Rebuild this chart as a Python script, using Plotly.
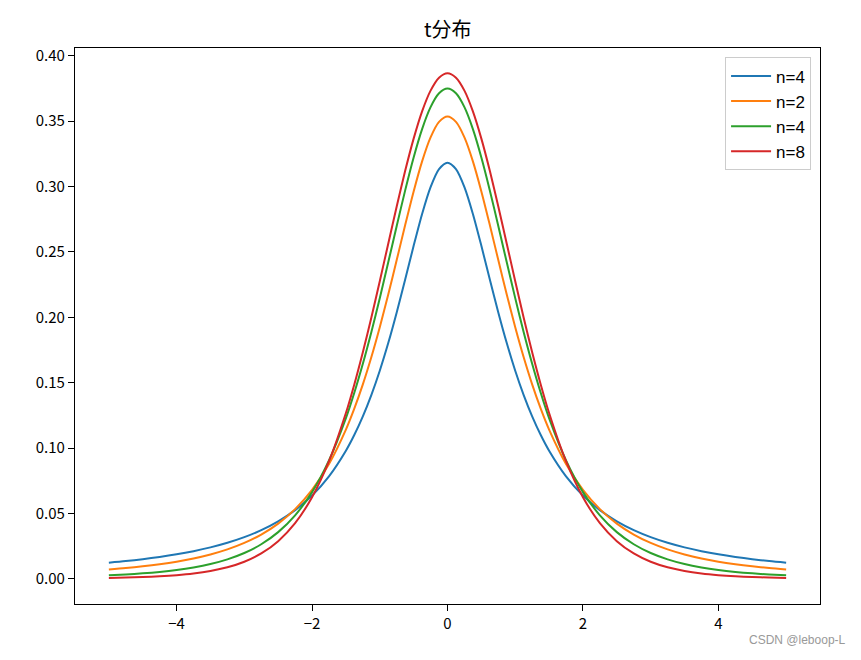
import plotly.graph_objects as go

x_half = [0, 0.125, 0.25, 0.375, 0.5, 0.625, 0.75, 0.875, 1, 1.125, 1.25, 1.375, 1.5, 1.75, 2, 2.25, 2.5,
          2.75, 3, 3.25, 3.5, 3.75, 4, 4.25, 4.5, 4.75, 5]
x_vals = [-v for v in x_half[:0:-1]] + x_half

n1_half = [0.31831, 0.31341, 0.29959, 0.27906, 0.25465, 0.22890, 0.20372, 0.18028, 0.15915, 0.14049,
           0.12422, 0.11012, 0.09794, 0.07835, 0.06366, 0.05250, 0.04391, 0.03718, 0.03183, 0.02753,
           0.02402, 0.02113, 0.01872, 0.01670, 0.01498, 0.01351, 0.01224]
n2_half = [0.35355, 0.34945, 0.33761, 0.31930, 0.29630, 0.27054, 0.24378, 0.21743, 0.19245, 0.16945,
           0.14872, 0.13031, 0.11413, 0.08779, 0.06804, 0.05328, 0.04220, 0.03382, 0.02741, 0.02246,
           0.01859, 0.01553, 0.01309, 0.01113, 0.00953, 0.00821, 0.00713]
n4_half = [0.37500, 0.37136, 0.36074, 0.34397, 0.32226, 0.29708, 0.26988, 0.24204, 0.21466, 0.18860,
           0.16444, 0.14249, 0.12288, 0.09053, 0.06629, 0.04854, 0.03568, 0.02640, 0.01969, 0.01483,
           0.01127, 0.00865, 0.00671, 0.00525, 0.00414, 0.00330, 0.00265]
n8_half = [0.38670, 0.38332, 0.37339, 0.35754, 0.33670, 0.31204, 0.28481, 0.25630, 0.22761, 0.19969,
           0.17326, 0.14885, 0.12677, 0.08995, 0.06237, 0.04257, 0.02878, 0.01936, 0.01301, 0.00876,
           0.00592, 0.00402, 0.00276, 0.00190, 0.00132, 0.00093, 0.00066]

series_names = ["n=4", "n=2", "n=4", "n=8"]
series_halves = [n1_half, n2_half, n4_half, n8_half]
colors = ["#1f77b4", "#ff7f0e", "#2ca02c", "#d62728"]

y_ticks = [0.0, 0.05, 0.10, 0.15, 0.20, 0.25, 0.30, 0.35, 0.40]
y_ticktext = ["0.00", "0.05", "0.10", "0.15", "0.20", "0.25", "0.30", "0.35", "0.40"]
x_ticks = [-4, -2, 0, 2, 4]
x_ticktext = ["\u22124", "\u22122", "0", "2", "4"]

font_main = "Noto Sans CJK SC, DejaVu Sans, sans-serif"

fig = go.Figure()
for name, half, c in zip(series_names, series_halves, colors):
    y = half[:0:-1] + half
    fig.add_trace(go.Scatter(x=x_vals, y=y, mode="lines", name=name,
                             line=dict(color=c, width=2, shape="spline", smoothing=0.8)))

fig.update_layout(
    width=861, height=660,
    paper_bgcolor="white", plot_bgcolor="white",
    margin=dict(l=75, r=41, t=48, b=56),
    title=dict(text="t分布", x=0.52, xanchor="center", y=0.955, yanchor="middle",
               font=dict(family=font_main, size=20, color="black")),
    font=dict(family=font_main, size=14, color="black"),
    showlegend=True,
    legend=dict(x=0.988, y=0.983, xanchor="right", yanchor="top",
                bgcolor="rgba(255,255,255,0.8)", bordercolor="#cccccc", borderwidth=1,
                font=dict(family="Liberation Sans, Arial, sans-serif", size=17),
                itemwidth=40),
)
fig.update_xaxes(range=[-5.5, 5.5], tickvals=x_ticks, ticktext=x_ticktext,
                 showgrid=False, zeroline=False, showline=True, linecolor="black", linewidth=1.3,
                 mirror=True, ticks="outside", ticklen=6, tickcolor="black", tickwidth=1.3,
                 tickfont=dict(family=font_main, size=15))
fig.update_yaxes(range=[-0.0193, 0.406], tickvals=y_ticks, ticktext=y_ticktext,
                 showgrid=False, zeroline=False, showline=True, linecolor="black", linewidth=1.3,
                 mirror=True, ticks="outside", ticklen=6, tickcolor="black", tickwidth=1.3,
                 tickfont=dict(family=font_main, size=15))

fig.add_annotation(text="CSDN @leboop-L", xref="paper", yref="paper", x=1.0376, y=-0.065,
                   xanchor="right", yanchor="middle", showarrow=False,
                   font=dict(family="Liberation Sans, Arial, sans-serif", size=12, color="#999999"))

fig.write_html("out.html")
